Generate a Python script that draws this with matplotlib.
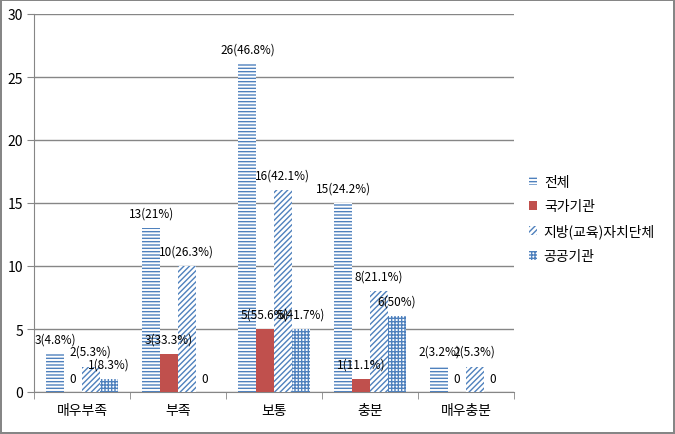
import numpy as np
import matplotlib
matplotlib.use('Agg')
import matplotlib.pyplot as plt

plt.rcParams['font.family'] = ['Noto Sans CJK KR', 'DejaVu Sans']
plt.rcParams['hatch.linewidth'] = 1.0

categories = ['매우부족', '부족', '보통', '충분', '매우충분']
series_names = ['전체', '국가기관', '지방(교육)자치단체', '공공기관']
total = [3, 13, 26, 15, 2]
national = [0, 3, 5, 1, 0]
local = [2, 10, 16, 8, 2]
public = [1, 0, 5, 6, 0]
total_lbl = ['3(4.8%)', '13(21%)', '26(46.8%)', '15(24.2%)', '2(3.2%)']
national_lbl = ['0', '3(33.3%)', '5(55.6%)', '1(11.1%)', '0']
local_lbl = ['2(5.3%)', '10(26.3%)', '16(42.1%)', '8(21.1%)', '2(5.3%)']
public_lbl = ['1(8.3%)', '0', '5(41.7%)', '6(50%)', '0']

blue = '#4F81BD'
red = '#C0504D'
grey = '#868686'

fig = plt.figure(figsize=(6.75, 4.35), dpi=100)
fig.patch.set_edgecolor(grey)
fig.patch.set_linewidth(1.5)
ax = fig.add_axes([34/675, 42/435, 480/675, 378/435])

x = np.arange(len(categories))
w = 0.185
styles = [
    dict(facecolor='white', edgecolor=blue, hatch='-----', linewidth=0),
    dict(facecolor=red, edgecolor=red, linewidth=0),
    dict(facecolor='white', edgecolor=blue, hatch='//////', linewidth=0),
    dict(facecolor='white', edgecolor=blue, hatch='+++++', linewidth=0),
]
data = [total, national, local, public]
labels = [total_lbl, national_lbl, local_lbl, public_lbl]

for i, (vals, lbls, st) in enumerate(zip(data, labels, styles)):
    pos = x + (i - 1.5) * w
    ax.bar(pos, vals, w, label=series_names[i], zorder=3, **st)
    for px, v, t in zip(pos, vals, lbls):
        off = 11 if v > 0 else 9.5
        ax.annotate(t, (px, v), xytext=(0, off), textcoords='offset points',
                    ha='center', va='center', fontsize=8.5, zorder=5)

ax.set_ylim(0, 30)
ax.set_yticks(range(0, 31, 5))
ax.set_xlim(-0.5, 4.5)
ax.set_xticks(x)
ax.set_xticklabels(categories, fontsize=10)
ax.set_xticks(np.arange(-0.5, 5, 1), minor=True)
ax.tick_params(axis='x', which='major', length=0, pad=8)
ax.tick_params(axis='x', which='minor', length=5, color=grey, direction='out')
ax.tick_params(axis='y', length=5, color=grey, labelsize=10, pad=3)

ax.yaxis.grid(True, color=grey, linewidth=1)
ax.set_axisbelow(True)
for s in ['top', 'right']:
    ax.spines[s].set_visible(False)
for s in ['left', 'bottom']:
    ax.spines[s].set_color(grey)

ax.legend(loc='center left', bbox_to_anchor=(516/675, 1 - 220/435),
          bbox_transform=fig.transFigure, frameon=False, fontsize=10,
          handlelength=0.6, handleheight=0.6, handletextpad=0.5,
          labelspacing=0.75)

fig.savefig('out.png', dpi=100)
